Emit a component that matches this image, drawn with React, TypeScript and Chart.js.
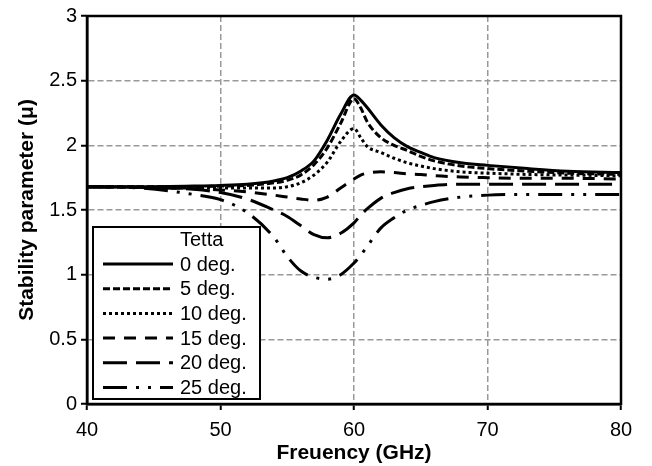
import { useEffect, useRef } from "react";
import { Chart, registerables } from "chart.js";

Chart.register(...registerables);

// Frequency (GHz) sample points shared by all series
const FREQ = [40, 44, 48, 50, 52, 54, 55, 56, 57, 58, 59, 60, 60.5, 61, 62, 63, 64, 65, 66, 68, 70, 73, 76, 80];

// Stability parameter μ for each Tetta angle
const MU_0 = [1.68, 1.68, 1.685, 1.69, 1.7, 1.725, 1.75, 1.8, 1.88, 2.04, 2.24, 2.39, 2.35, 2.29, 2.16, 2.06, 1.99, 1.945, 1.905, 1.865, 1.845, 1.82, 1.8, 1.79];
const MU_5 = [1.68, 1.68, 1.68, 1.685, 1.69, 1.71, 1.73, 1.77, 1.85, 1.98, 2.17, 2.36, 2.29, 2.18, 2.06, 2.0, 1.96, 1.915, 1.88, 1.84, 1.82, 1.8, 1.785, 1.775];
const MU_10 = [1.68, 1.675, 1.67, 1.67, 1.67, 1.67, 1.68, 1.71, 1.77, 1.87, 2.03, 2.13, 2.06, 1.99, 1.945, 1.9, 1.865, 1.84, 1.82, 1.795, 1.785, 1.775, 1.77, 1.765];
const MU_15 = [1.68, 1.675, 1.665, 1.655, 1.64, 1.615, 1.6, 1.585, 1.575, 1.6, 1.67, 1.74, 1.77, 1.785, 1.795, 1.79, 1.78, 1.775, 1.765, 1.755, 1.75, 1.745, 1.745, 1.74];
const MU_20 = [1.68, 1.675, 1.66, 1.635, 1.585, 1.5, 1.45, 1.38, 1.31, 1.285, 1.32, 1.4, 1.46, 1.51, 1.59, 1.635, 1.665, 1.68, 1.69, 1.7, 1.7, 1.7, 1.7, 1.7];
const MU_25 = [1.68, 1.67, 1.62, 1.58, 1.48, 1.29, 1.14, 1.03, 0.98, 0.965, 1.0, 1.09, 1.15, 1.22, 1.36, 1.44, 1.5, 1.535, 1.565, 1.6, 1.615, 1.62, 1.62, 1.62];

const SERIES = [MU_0, MU_5, MU_10, MU_15, MU_20, MU_25];
const SERIES_LABELS = ["0 deg.", "5 deg.", "10 deg.", "15 deg.", "20 deg.", "25 deg."];
const LEGEND_TITLE = "Tetta";
const X_TITLE = "Freuency (GHz)";
const Y_TITLE = "Stability parameter (\u03bc)";

const DASHES: number[][] = [[], [7, 3], [3, 3], [12, 9], [24, 9], [24, 9, 3, 9, 3, 9]];
const FONT = "'Liberation Sans', Arial, sans-serif";

const frameAndLegend = {
  id: "frameAndLegend",
  afterDatasetsDraw(chart: any) {
    const { ctx, chartArea: a } = chart;
    ctx.save();
    ctx.setLineDash([]);
    ctx.strokeStyle = "#000";
    ctx.lineWidth = 2.5;
    ctx.strokeRect(a.left, a.top, a.right - a.left, a.bottom - a.top);

    // legend box
    const bw = 167;
    const bh = 172;
    const bx = a.left + 6;
    const by = a.bottom - 5 - bh;
    ctx.fillStyle = "#fff";
    ctx.fillRect(bx, by, bw, bh);
    ctx.lineWidth = 2;
    ctx.strokeRect(bx, by, bw, bh);

    ctx.font = `20px ${FONT}`;
    ctx.fillStyle = "#000";
    ctx.textBaseline = "middle";
    ctx.textAlign = "left";
    const textX = bx + 87;
    ctx.fillText(LEGEND_TITLE, textX, by + 13);
    chart.data.datasets.forEach((ds: any, i: number) => {
      const y = by + 37 + i * 24.7;
      ctx.beginPath();
      ctx.setLineDash(ds.borderDash || []);
      ctx.lineWidth = ds.borderWidth;
      ctx.strokeStyle = "#000";
      ctx.moveTo(bx + 10, y);
      ctx.lineTo(bx + 80, y);
      ctx.stroke();
      ctx.setLineDash([]);
      ctx.fillText(ds.label, textX, y + 1);
    });
    ctx.restore();
  },
};

export default function App() {
  const ref = useRef<HTMLCanvasElement | null>(null);

  useEffect(() => {
    if (!ref.current) return;
    const datasets = SERIES.map((vals, i) => ({
      label: SERIES_LABELS[i],
      data: FREQ.map((f, j) => ({ x: f, y: vals[j] })),
      borderColor: "#000",
      backgroundColor: "#000",
      borderWidth: 3,
      borderDash: DASHES[i],
      pointRadius: 0,
      fill: false,
      cubicInterpolationMode: "monotone" as const,
    }));

    const gridOpts: any = {
      color: "#999",
      lineWidth: 1.5,
      tickColor: "#000",
      tickWidth: 2,
      tickLength: 6,
      tickBorderDash: [],
    };

    const chart = new Chart(ref.current, {
      type: "line",
      data: { datasets },
      options: {
        responsive: false,
        animation: false,
        devicePixelRatio: 1,
        layout: { padding: { top: 15, right: 31, left: 0, bottom: 0 } },
        plugins: { legend: { display: false }, tooltip: { enabled: false } },
        scales: {
          x: {
            type: "linear",
            min: 40,
            max: 80,
            afterFit: (s: any) => {
              s.height = 62;
            },
            ticks: { stepSize: 10, color: "#000", font: { family: FONT, size: 20 }, padding: 8 },
            grid: gridOpts,
            border: { color: "#000", width: 2.5, dash: [6, 3] } as any,
            title: {
              display: true,
              text: X_TITLE,
              color: "#000",
              font: { family: FONT, size: 21, weight: "bold" },
              padding: { top: 0, bottom: 0 },
            },
          },
          y: {
            min: 0,
            max: 3,
            afterFit: (s: any) => {
              s.width = 87;
            },
            ticks: {
              stepSize: 0.5,
              color: "#000",
              font: { family: FONT, size: 20 },
              padding: 4,
              callback: (v: any) => String(Number(v)),
            },
            grid: gridOpts,
            border: { color: "#000", width: 2.5, dash: [6, 3] } as any,
            title: {
              display: true,
              text: Y_TITLE,
              color: "#000",
              font: { family: FONT, size: 21, weight: "bold" },
              padding: { top: 15, bottom: 0 },
            },
          },
        },
      },
      plugins: [frameAndLegend],
    });
    return () => chart.destroy();
  }, []);

  return (
    <div style={{ position: "absolute", left: 0, top: 0, width: 652, height: 466, background: "#fff" }}>
      <canvas ref={ref} width={652} height={466} />
    </div>
  );
}
